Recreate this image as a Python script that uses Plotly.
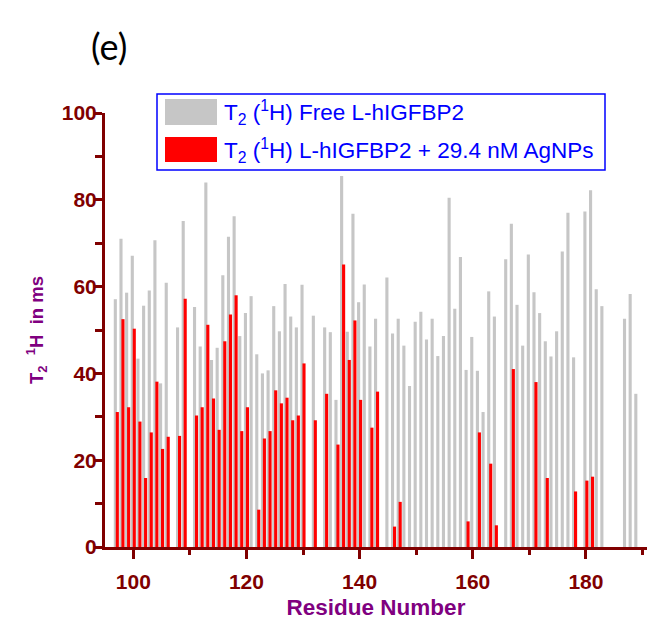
import plotly.graph_objects as go

# Residue numbers (x categories)
residues = [97, 98, 99, 100, 101, 102, 103, 104, 105, 106, 108, 109,
            111, 112, 113, 114, 115, 116, 117, 118, 119, 120, 121, 122,
            123, 124, 125, 126, 127, 128, 129, 130, 132, 134, 135, 136,
            137, 138, 139, 140, 141, 142, 143, 145, 146, 147, 148, 149,
            150, 151, 152, 153, 154, 155, 156, 157, 158, 159, 160, 161,
            162, 163, 164, 166, 167, 168, 169, 170, 171, 172, 173, 174,
            175, 176, 177, 178, 180, 181, 182, 183, 187, 188, 189]

# T2 (1H) of free L-hIGFBP2 (ms)
t2_free = [57.1, 71.0, 58.6, 67.1, 43.4, 55.6, 59.1, 70.7, 37.7, 60.9, 50.6, 75.1,
           55.3, 46.2, 84.0, 43.1, 45.9, 62.6, 71.5, 76.2, 48.6, 53.9, 57.8, 44.4,
           40.0, 40.7, 55.5, 49.7, 60.6, 53.1, 50.6, 60.4, 53.3, 50.6, 49.5, 33.9,
           85.5, 49.6, 76.8, 56.4, 60.5, 46.2, 52.6, 62.1, 49.2, 52.6, 46.4, 37.1,
           51.9, 54.2, 47.8, 52.6, 44.0, 48.6, 80.5, 54.9, 66.8, 40.8, 48.4, 40.6,
           31.1, 58.9, 53.1, 66.3, 74.5, 55.8, 46.4, 67.4, 58.7, 53.9, 47.4, 43.9,
           49.7, 68.1, 77.0, 43.7, 77.3, 82.2, 59.4, 55.5, 52.6, 58.3, 35.3]

# T2 (1H) of L-hIGFBP2 + 29.4 nM AgNPs (ms); None = not observed
t2_agnp = [31.1, 52.5, 32.2, 50.3, 28.9, 15.9, 26.4, 38.1, 22.6, 25.4, 25.6, 57.2,
           30.3, 32.2, 51.2, 34.2, 27.0, 47.4, 53.6, 58.0, 26.7, 32.2, None, 8.6,
           25.0, 26.7, 36.1, 33.1, 34.4, 29.2, 30.3, 42.3, 29.2, 35.3, None, 23.6,
           65.1, 43.1, 52.2, 33.9, None, 27.5, 35.8, None, 4.7, 10.4, None, None,
           None, None, None, None, None, None, None, None, None, 5.9, None, 26.4,
           None, 19.2, 5.0, None, 41.0, None, None, None, 38.0, None, 15.9, None,
           None, None, None, 12.8, 15.3, 16.2, None, None, None, None, None]

legend_free = "T<sub>2</sub> (<sup>1</sup>H) Free L-hIGFBP2"
legend_agnp = "T<sub>2</sub> (<sup>1</sup>H) L-hIGFBP2 + 29.4 nM AgNPs"

FONT = "Liberation Sans, Arial, sans-serif"
DARKRED = "#800000"
PURPLE = "#800080"
BLUE = "#0000FF"
GRAY = "#C6C6C6"
RED = "#FF0000"

fig = go.Figure()
fig.add_trace(go.Bar(x=residues, y=t2_free, name=legend_free,
                     marker=dict(color=GRAY, line=dict(width=0)),
                     width=0.55, offset=-0.45))
fig.add_trace(go.Bar(x=residues, y=t2_agnp, name=legend_agnp,
                     marker=dict(color=RED, line=dict(width=0)),
                     width=0.55, offset=-0.1))

# page has an 8px body margin; figure is drawn at (8, 8) in the window
OFF = 8
FW, FH = 656 - OFF, 640 - OFF
# plot area in window pixels: x 105..647, y 113..547
L, R, T, B = 105, 647, 113, 547
W, H = R - L, B - T

def px(x):
    return (x - L) / W

def py(y):
    return (B - y) / H

shapes = [
    dict(type="rect", xref="paper", yref="paper", x0=px(157), x1=px(605),
         y0=py(170), y1=py(94), line=dict(color=BLUE, width=1.5),
         fillcolor="white", layer="above"),
    dict(type="rect", xref="paper", yref="paper", x0=px(165), x1=px(217),
         y0=py(125), y1=py(99), line=dict(width=0), fillcolor=GRAY, layer="above"),
    dict(type="rect", xref="paper", yref="paper", x0=px(165), x1=px(217),
         y0=py(162), y1=py(137), line=dict(width=0), fillcolor=RED, layer="above"),
]

annotations = [
    dict(text=legend_free, xref="paper", yref="paper", x=px(222), y=py(112),
         xanchor="left", yanchor="middle", showarrow=False,
         font=dict(family=FONT, size=22.5, color=BLUE)),
    dict(text=legend_agnp, xref="paper", yref="paper", x=px(222), y=py(150),
         xanchor="left", yanchor="middle", showarrow=False,
         font=dict(family=FONT, size=22.5, color=BLUE)),
    dict(text="(e)", xref="paper", yref="paper", x=px(109), y=py(46),
         xanchor="center", yanchor="middle", showarrow=False,
         font=dict(family="Lato, Open Sans, sans-serif", size=36, color="black")),
]

fig.update_layout(
    width=FW, height=FH,
    margin=dict(l=L - OFF, r=656 - R, t=T - OFF, b=640 - B),
    barmode="overlay", showlegend=False,
    plot_bgcolor="rgba(0,0,0,0)", paper_bgcolor="white",
    shapes=shapes, annotations=annotations,
    xaxis=dict(
        range=[95, 190.8], showgrid=False, zeroline=False,
        showline=True, linecolor=DARKRED, linewidth=3,
        ticks="outside", tickvals=[100, 120, 140, 160, 180],
        ticklen=9, tickwidth=3, tickcolor=DARKRED, ticklabelstandoff=5,
        minor=dict(tickvals=[110, 130, 150, 170, 190], ticks="outside",
                   ticklen=5, tickwidth=3, tickcolor=DARKRED, showgrid=False),
        tickfont=dict(family=FONT, size=21, color=DARKRED, weight="bold"),
        title=dict(text="Residue Number", standoff=8,
                   font=dict(family=FONT, size=22.5, color=PURPLE, weight="bold")),
    ),
    yaxis=dict(
        range=[0, 100], showgrid=False, zeroline=False,
        showline=True, linecolor=DARKRED, linewidth=3,
        ticks="outside", tickvals=[0, 20, 40, 60, 80, 100],
        ticklen=7, tickwidth=3, tickcolor=DARKRED, ticklabelstandoff=-6,
        minor=dict(tickvals=[10, 30, 50, 70, 90], ticks="outside",
                   ticklen=7, tickwidth=3, tickcolor=DARKRED, showgrid=False),
        tickfont=dict(family=FONT, size=21, color=DARKRED, weight="bold"),
        title=dict(text="T<sub>2</sub>  <sup>1</sup>H  in ms", standoff=14,
                   font=dict(family=FONT, size=18.5, color=PURPLE, weight="bold")),
    ),
)

fig.write_html("out.html")
